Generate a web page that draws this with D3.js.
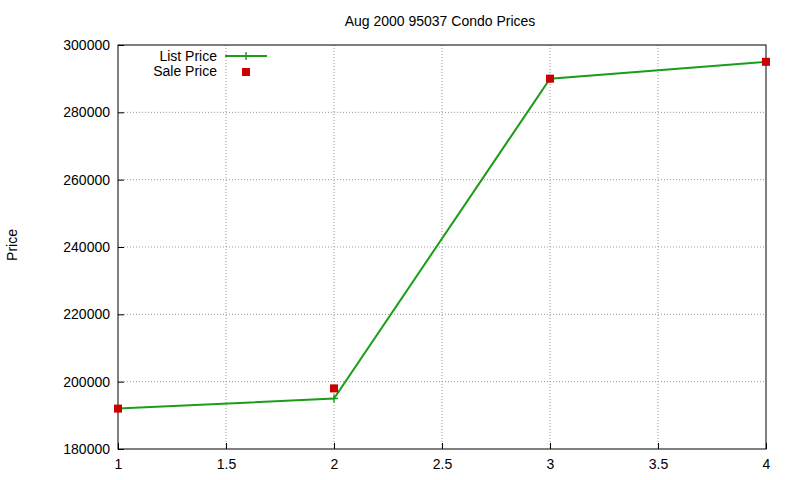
<!DOCTYPE html>
<html><head><meta charset="utf-8">
<script src="https://cdn.jsdelivr.net/npm/d3@7"></script>
<style>
body{margin:0;background:#fff;}
text{font-family:"Liberation Sans",Arial,sans-serif;font-size:14px;fill:#000;}
</style></head>
<body><div id="chart"></div>
<script>
const quarters = [1, 2, 3, 4];
const listPrice = [192000, 195000, 290000, 295000];
const salePrice = [192000, 198000, 290000, 295000];
const yTicks = [180000, 200000, 220000, 240000, 260000, 280000, 300000];
const xTicks = [1, 1.5, 2, 2.5, 3, 3.5, 4];

const w = 800, h = 480;
const pLeft = 118, pRight = 766, pTop = 45, pBottom = 449;

const svg = d3.select("#chart").append("svg").attr("width", w).attr("height", h);

const xScale = d3.scaleLinear().domain([1, 4]).range([pLeft, pRight]);
const yScale = d3.scaleLinear().domain([180000, 300000]).range([pBottom, pTop]);

// grid
svg.append("g").selectAll("line").data(xTicks.slice(1, -1)).enter().append("line")
  .attr("x1", d => xScale(d)).attr("x2", d => xScale(d))
  .attr("y1", pTop).attr("y2", pBottom)
  .attr("stroke", "#999").attr("stroke-dasharray", "1,2");
svg.append("g").selectAll("line").data(yTicks.slice(1, -1)).enter().append("line")
  .attr("x1", pLeft).attr("x2", pRight)
  .attr("y1", d => yScale(d)).attr("y2", d => yScale(d))
  .attr("stroke", "#999").attr("stroke-dasharray", "1,2");

svg.append("rect").attr("x", pLeft).attr("y", pTop)
  .attr("width", pRight - pLeft).attr("height", pBottom - pTop)
  .attr("fill", "none").attr("stroke", "#000");

const xAxis = d3.axisBottom(xScale).tickValues(xTicks).tickSize(-6).tickPadding(10).tickFormat(d3.format("~g"));
svg.append("g").attr("transform", "translate(0," + pBottom + ")").call(xAxis)
  .call(g => g.select(".domain").remove())
  .call(g => g.selectAll("text").style("font-size", "14px"));
const yAxis = d3.axisLeft(yScale).tickValues(yTicks).tickSize(-6).tickPadding(8).tickFormat(d3.format("d"));
svg.append("g").attr("transform", "translate(" + pLeft + ",0)").call(yAxis)
  .call(g => g.select(".domain").remove())
  .call(g => g.selectAll("text").style("font-size", "14px"));

svg.append("text").attr("x", 440).attr("y", 26).attr("text-anchor", "middle").text("Aug 2000 95037 Condo Prices");
svg.append("text").attr("transform", "translate(17," + (h / 2 + 5) + ") rotate(-90)")
  .attr("text-anchor", "middle").text("Price");

const line = d3.line().x((d, i) => xScale(quarters[i])).y(d => yScale(d));
svg.append("path").datum(listPrice).attr("d", line)
  .attr("fill", "none").attr("stroke", "#1a9e1a").attr("stroke-width", 2);
svg.selectAll("path.plus").data(listPrice).enter().append("path").attr("class", "plus")
  .attr("d", (d, i) => { const x = xScale(quarters[i]), y = yScale(d); return `M${x-4},${y}H${x+4}M${x},${y-4}V${y+4}`; })
  .attr("stroke", "#1a9e1a").attr("stroke-width", 1.5);

svg.selectAll("rect.sale").data(salePrice).enter().append("rect").attr("class", "sale")
  .attr("x", (d, i) => xScale(quarters[i]) - 4).attr("y", d => yScale(d) - 4)
  .attr("width", 8).attr("height", 8).attr("fill", "#cc0000");

// legend
svg.append("text").attr("x", 217).attr("y", 61).attr("text-anchor", "end").text("List Price");
svg.append("line").attr("x1", 225).attr("x2", 267).attr("y1", 56).attr("y2", 56)
  .attr("stroke", "#1a9e1a").attr("stroke-width", 2);
svg.append("path").attr("d", "M242,56H250M246,52V60").attr("stroke", "#1a9e1a").attr("stroke-width", 1.5);
svg.append("text").attr("x", 217).attr("y", 76).attr("text-anchor", "end").text("Sale Price");
svg.append("rect").attr("x", 242).attr("y", 68).attr("width", 8).attr("height", 8).attr("fill", "#cc0000");
</script></body></html>
